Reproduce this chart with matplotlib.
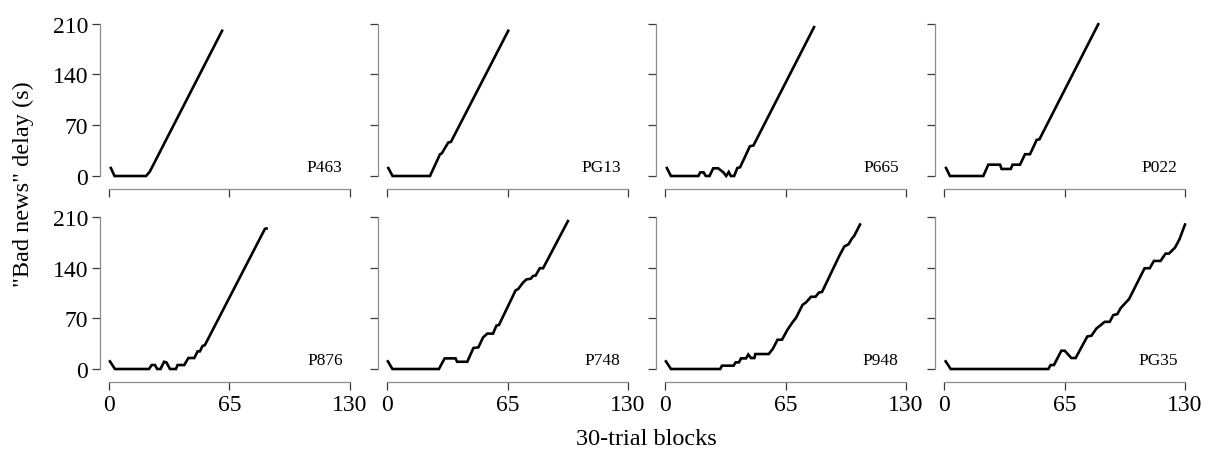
import matplotlib.pyplot as plt

plt.rcParams['font.family'] = ['Liberation Serif', 'DejaVu Serif']

# delay titration per participant: vertices of each trajectory (block, delay in s)
names = ["P463", "PG13", "P665", "P022", "P876", "P748", "P948", "PG35"]

p463_x = [1, 3, 20, 22, 61]
p463_y = [11, 0, 0, 6, 200]

pg13_x = [0.7, 3, 23.2, 28.6, 29.5, 33, 34.5, 65.4]
pg13_y = [11, 0, 0, 30, 31, 46, 47, 200]

p665_x = [1, 3.2, 18, 19, 20.8, 22, 24, 26, 28.7, 31.5, 33, 34.4, 35.5, 37.3, 39, 40.5, 45.8, 47.7, 80.4]
p665_y = [11, 0, 0, 5, 5, 0, 0, 10.6, 10.6, 5, 0, 5.5, 0, 0, 11, 12, 41, 42, 205]

p022_x = [1.1, 3.2, 21.2, 23.9, 30.2, 31.1, 36, 37, 41, 43.7, 46.4, 50, 51.5, 83.2]
p022_y = [11, 0, 0, 15.6, 15.6, 9.7, 9.7, 15.6, 15.6, 30, 30, 49.7, 50.6, 209]

p876_x = [0.5, 3.2, 21.6, 23, 24.8, 26, 27.8, 29.7, 31, 32.9, 36.1, 37, 40.6, 42.8, 46, 47.8,
          49, 50.5, 51.7, 84.1, 85]
p876_y = [10.6, 0, 0, 5.5, 5.5, 0, 0, 10, 9, 0, 0, 5.5, 5.5, 15.2, 15.2, 24.4,
          24.4, 32, 33, 194, 194.5]

p748_x = [0.5, 2.9, 28, 31.1, 37, 37.8, 43.3, 46.6, 49.3, 51.8, 54.1, 57.2, 59, 60.4, 69.4, 70.7,
          73.4, 75.2, 77.5, 78.8, 80.2, 82.4, 84.2, 97.6]
p748_y = [10.6, 0, 0, 14.7, 14.7, 10, 10, 29, 30, 43.7, 49, 49, 60, 61, 109, 110.5,
          119.7, 124, 125, 128.7, 129.5, 139.5, 139.5, 204.8]

p948_x = [0.5, 3.2, 29.8, 30.7, 37, 38.1, 39.9, 41, 43.7, 44.9, 46.4, 48.2, 48.7, 55.9, 58.1,
          60.7, 63.1, 66.2, 68.9, 70.7, 74.2, 76, 78.8, 81.2, 83, 84.7, 94, 96.7, 99, 100.8,
          102, 105.2]
p948_y = [10.6, 0, 0, 4.6, 4.6, 9.2, 9.2, 14.7, 14.7, 20, 15.2, 15.2, 20.7, 20.7, 27.6,
          40.5, 40.5, 55, 65, 71, 88.8, 92, 100, 100, 105.8, 106.7, 156.5, 169.5, 172.7, 180.5,
          184, 200]

pg35_x = [0.9, 3.6, 56.3, 57.5, 59.3, 63.3, 65.1, 68.7, 71, 77.3, 79.5, 82.2, 84.5, 86.7, 89.4,
          91.3, 93.5, 95.3, 97.6, 99.8, 108.2, 111, 113.2, 116.8, 119.5, 121.3, 124.6, 127, 130]
pg35_y = [10.6, 0, 0, 5.5, 5.5, 25.3, 25.3, 15.2, 15.2, 45, 46, 56, 60.7, 65.3, 65.3,
          74.6, 76, 84.3, 90.8, 96.7, 139.5, 139.5, 149.6, 149.6, 159.7, 159.7, 168, 179.5, 200]

series = [(p463_x, p463_y), (pg13_x, pg13_y), (p665_x, p665_y), (p022_x, p022_y),
          (p876_x, p876_y), (p748_x, p748_y), (p948_x, p948_y), (pg35_x, pg35_y)]

x_ticks = [0, 65, 130]
y_ticks = [0, 70, 140, 210]

W, H = 1211, 460
fig = plt.figure(figsize=(W / 100, H / 100), dpi=100)

col_left = [109, 387, 665, 944]
row_bottom = [177, 370]   # pixel row of y = 0
row_top = [24.5, 218.3]   # pixel row of y = 210
panel_w = 241

spine_col = "#8c8c8c"
tick_col = "#3a3a3a"

for i, (name, (xs, ys)) in enumerate(zip(names, series)):
    r, c = divmod(i, 4)
    ax = fig.add_axes([col_left[c] / W, 1 - row_bottom[r] / H,
                       panel_w / W, (row_bottom[r] - row_top[r]) / H])
    ax.plot(xs, ys, color="black", lw=1.9, solid_joinstyle="miter", clip_on=False)
    ax.set_xlim(0, 130)
    ax.set_ylim(0, 210)
    ax.set_xticks(x_ticks)
    ax.set_yticks(y_ticks)

    for side in ("top", "right"):
        ax.spines[side].set_visible(False)
    ax.spines["left"].set_position(("outward", 6.5))
    ax.spines["bottom"].set_position(("outward", 9.5))
    ax.spines["left"].set_bounds(0, 210)
    ax.spines["bottom"].set_bounds(0, 130)
    for side in ("left", "bottom"):
        ax.spines[side].set_color(spine_col)
        ax.spines[side].set_linewidth(0.9)

    ax.tick_params(axis="both", colors=tick_col, labelcolor="black", labelsize=17,
                   length=5.5, width=0.9, direction="out")
    ax.tick_params(axis="y", pad=3)
    ax.tick_params(axis="x", pad=3)
    if r == 0:
        ax.tick_params(axis="x", labelbottom=False)
    if c != 0:
        ax.tick_params(axis="y", labelleft=False)

    ax.text(126, 7, name, ha="right", va="baseline", fontsize=12.5)
    ax.patch.set_alpha(0)

fig.text(0.019, 0.6, '"Bad news" delay (s)', rotation=90, ha="center", va="center", fontsize=17.5)
fig.text(646 / W, 1 - 440 / H, "30-trial blocks", ha="center", va="center", fontsize=17.5)

fig.savefig("out.png", dpi=100)
